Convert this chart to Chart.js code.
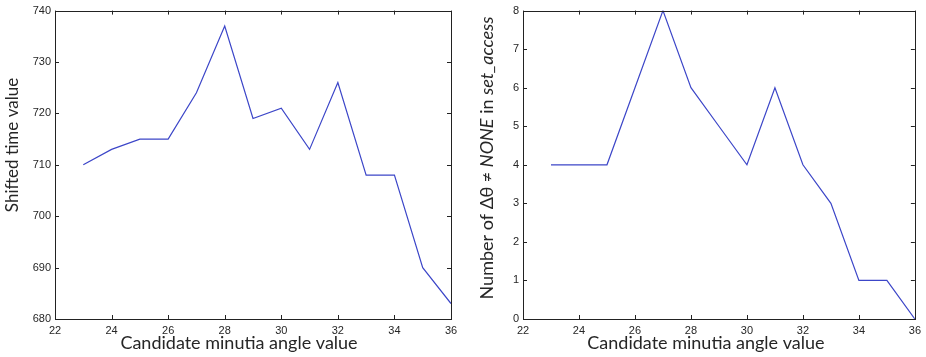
<!DOCTYPE html>
<html>
<head>
<meta charset="utf-8">
<script src="https://cdn.jsdelivr.net/npm/chart.js@4"></script>
<style>
html, body { margin: 0; padding: 0; background: #fff; }
#wrap { position: relative; width: 926px; height: 357px; }
canvas { position: absolute; top: 0; }
#leftChart { left: 0; }
#rightChart { left: 463px; }
</style>
</head>
<body>
<div id="wrap">
  <canvas id="leftChart" width="463" height="357"></canvas>
  <canvas id="rightChart" width="463" height="357"></canvas>
</div>
<script>
// ========================================
// DONNEES
// ========================================
const angles = [23, 24, 25, 26, 27, 28, 29, 30, 31, 32, 33, 34, 35, 36];
const shiftedTime = [710, 713, 715, 715, 724, 737, 719, 721, 713, 726, 708, 708, 690, 683];
const accessCount = [4, 4, 4, 6, 8, 6, 5, 4, 6, 4, 3, 1, 1, 0];

const xTicks = [22, 24, 26, 28, 30, 32, 34, 36];
const leftYTicks = [680, 690, 700, 710, 720, 730, 740];
const rightYTicks = [0, 1, 2, 3, 4, 5, 6, 7, 8];

const xTitle = "Candidate minutia angle value";
const leftYTitle = [{ text: "Shifted time value", italic: false }];
const rightYTitle = [
    { text: "Number of Δθ ≠ ", italic: false },
    { text: "NONE", italic: true },
    { text: " in ", italic: false },
    { text: "set_access", italic: true }
];

const LINE_COLOR = "#3c46c8";
const TEXT_COLOR = "#262626";
const TITLE_FONT = "Lato";

// ============
// cadre + ticks interieurs facon MATLAB, titres d'axes
// ============
const matlabBox = {
    id: "matlabBox",
    afterDraw(chart, args, opts) {
        const { ctx, chartArea: a, scales } = chart;
        ctx.save();
        ctx.strokeStyle = "#222";
        ctx.lineWidth = 1;
        ctx.strokeRect(Math.round(a.left) + 0.5, Math.round(a.top) + 0.5,
            Math.round(a.right - a.left), Math.round(a.bottom - a.top));

        const len = 4;
        ctx.beginPath();
        opts.xTicks.forEach(v => {
            const x = Math.round(scales.x.getPixelForValue(v)) + 0.5;
            ctx.moveTo(x, a.bottom); ctx.lineTo(x, a.bottom - len);
            ctx.moveTo(x, a.top); ctx.lineTo(x, a.top + len);
        });
        opts.yTicks.forEach(v => {
            const y = Math.round(scales.y.getPixelForValue(v)) + 0.5;
            ctx.moveTo(a.left, y); ctx.lineTo(a.left + len, y);
            ctx.moveTo(a.right, y); ctx.lineTo(a.right - len, y);
        });
        ctx.stroke();

        // titre X
        ctx.fillStyle = TEXT_COLOR;
        ctx.font = "18px " + TITLE_FONT;
        ctx.textAlign = "center";
        ctx.textBaseline = "middle";
        ctx.fillText(opts.xTitle, (a.left + a.right) / 2 + opts.xShift, a.bottom + 24);

        // titre Y (morceaux italiques possibles)
        ctx.translate(opts.yTitleX, opts.yTitleY);
        ctx.rotate(-Math.PI / 2);
        ctx.textAlign = "left";
        const fontOf = p => (p.italic ? "italic " : "") + opts.yTitleSize + "px " + TITLE_FONT;
        let total = 0;
        opts.yTitle.forEach(p => { ctx.font = fontOf(p); total += ctx.measureText(p.text).width; });
        let cx = -total / 2;
        opts.yTitle.forEach(p => {
            ctx.font = fontOf(p);
            ctx.fillText(p.text, cx, 0);
            cx += ctx.measureText(p.text).width;
        });
        ctx.restore();
    }
};

function makeChart(canvasId, values, yMin, yMax, yTicks, yWidth, padRight, boxOpts) {
    const ctx = document.getElementById(canvasId).getContext("2d");
    return new Chart(ctx, {
        type: "line",
        data: {
            datasets: [{
                data: angles.map((a, i) => ({ x: a, y: values[i] })),
                borderColor: LINE_COLOR,
                borderWidth: 1.2,
                pointRadius: 0,
                tension: 0,
                fill: false
            }]
        },
        options: {
            responsive: false,
            animation: false,
            layout: { padding: { top: 8, right: padRight, left: 0, bottom: 0 } },
            plugins: {
                legend: { display: false },
                tooltip: { enabled: false },
                matlabBox: boxOpts
            },
            scales: {
                x: {
                    type: "linear",
                    min: 22, max: 36,
                    afterBuildTicks: s => { s.ticks = xTicks.map(v => ({ value: v })); },
                    grid: { display: false, drawTicks: false },
                    border: { display: false },
                    ticks: {
                        color: TEXT_COLOR,
                        font: { family: "Liberation Sans", size: 11 },
                        padding: 5,
                        maxRotation: 0,
                        autoSkip: false
                    },
                    afterFit: s => { s.height = 38; }
                },
                y: {
                    min: yMin, max: yMax,
                    afterBuildTicks: s => { s.ticks = yTicks.map(v => ({ value: v })); },
                    grid: { display: false, drawTicks: false },
                    border: { display: false },
                    ticks: {
                        color: TEXT_COLOR,
                        font: { family: "Liberation Sans", size: 11 },
                        padding: 4,
                        autoSkip: false
                    },
                    afterFit: s => { s.width = yWidth; }
                }
            }
        },
        plugins: [matlabBox]
    });
}

makeChart("leftChart", shiftedTime, 680, 740, leftYTicks, 55, 12, {
    xTicks: xTicks, yTicks: leftYTicks,
    xTitle: xTitle, xShift: -14,
    yTitle: leftYTitle, yTitleSize: 17, yTitleX: 13, yTitleY: 145
});

makeChart("rightChart", accessCount, 0, 8, rightYTicks, 60, 9, {
    xTicks: xTicks, yTicks: rightYTicks,
    xTitle: xTitle, xShift: -13,
    yTitle: rightYTitle, yTitleSize: 18, yTitleX: 24, yTitleY: 158
});
</script>
</body>
</html>
